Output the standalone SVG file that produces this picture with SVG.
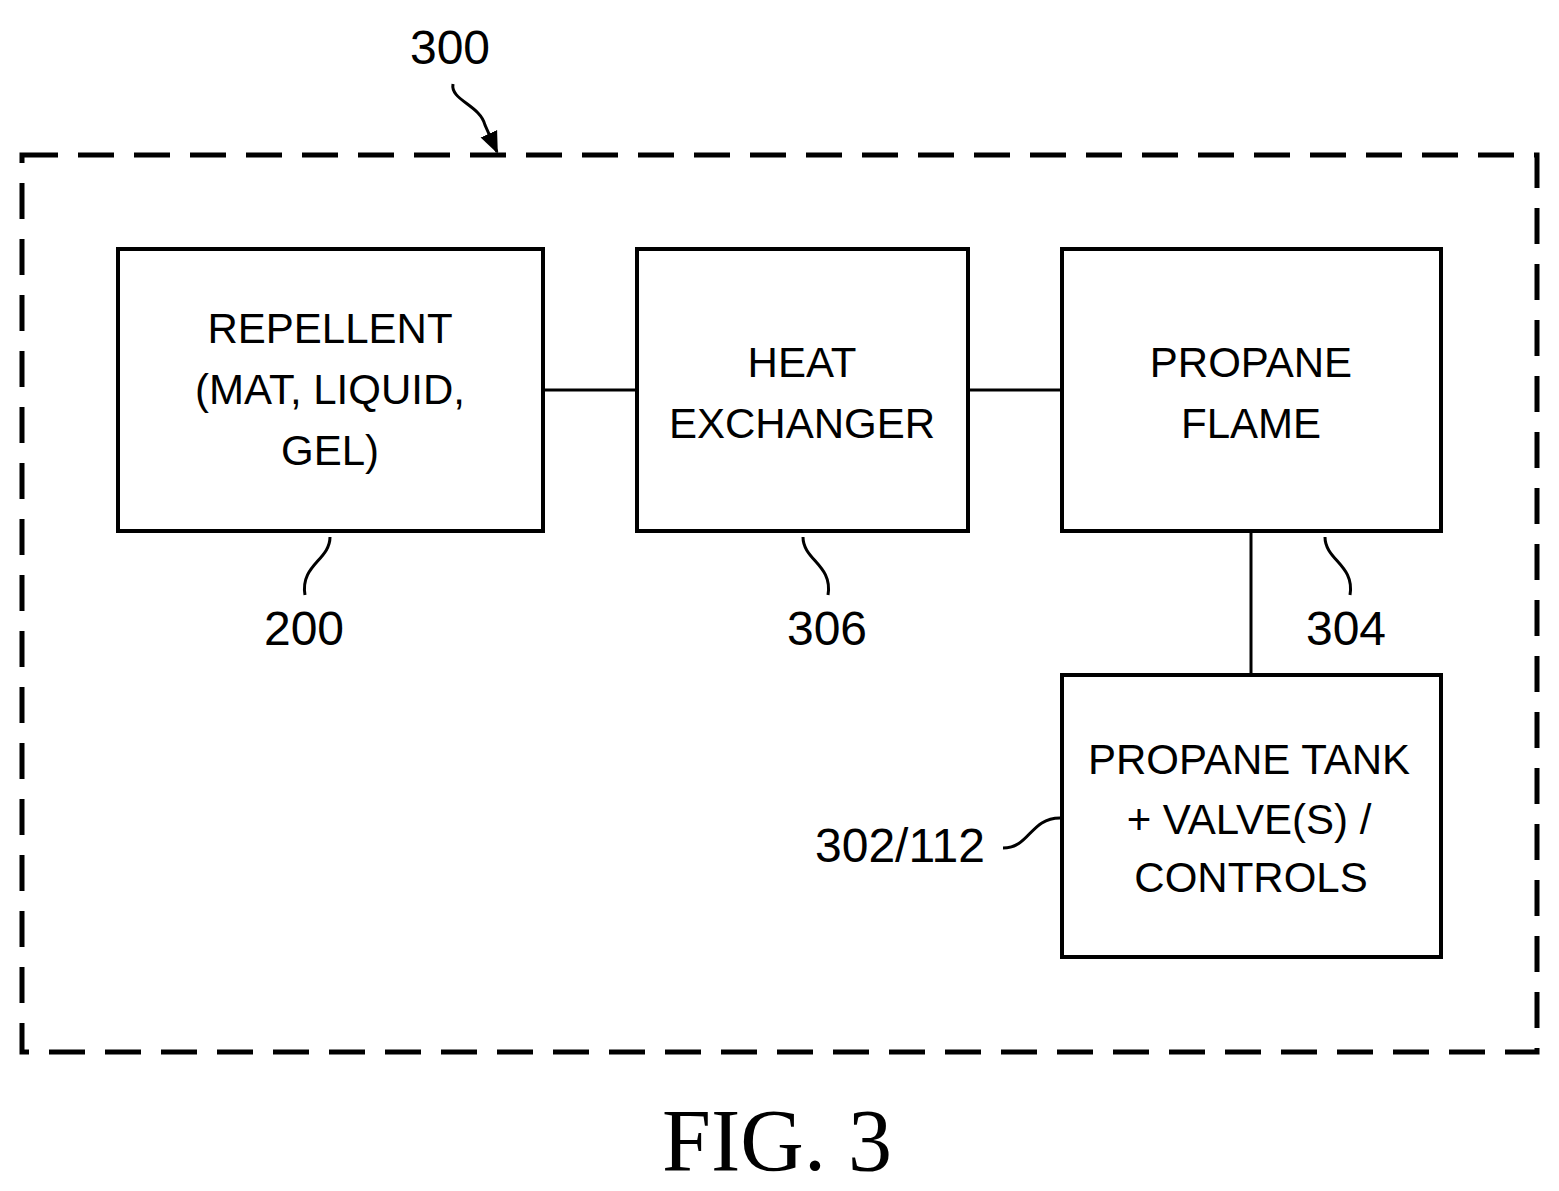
<svg xmlns="http://www.w3.org/2000/svg" width="1559" height="1191" viewBox="0 0 1559 1191">
<style>
.b{fill:#fff;stroke:#000;stroke-width:4}
.t{font-family:"Liberation Sans",Arial,sans-serif;font-size:42px;text-anchor:middle;fill:#000}
.n{font-family:"Liberation Sans",Arial,sans-serif;font-size:48px;text-anchor:middle;fill:#000}
.l{fill:none;stroke:#000;stroke-width:3}
</style>
<defs>
<marker id="ah" markerWidth="22" markerHeight="22" refX="20" refY="11" orient="auto" markerUnits="userSpaceOnUse" viewBox="0 0 22 22"><path d="M0,2L22,11L0,20z"/></marker></defs>
<rect x="22" y="155" width="1515" height="897" fill="none" stroke="#000" stroke-width="5" stroke-dasharray="36,20"/>
<g id="connectors">
<line class="l" x1="543" y1="390" x2="637" y2="390"/>
<line class="l" x1="968" y1="390" x2="1062" y2="390"/>
<line class="l" x1="1251" y1="531" x2="1251" y2="675"/>
<path class="l" d="M453,84 C450,100 480,105 485,125 L497,152" marker-end="url(#ah)"/>
<path class="l" d="M330,537 C330,560 300,565 305,595"/>
<path class="l" d="M803,537 C803,560 833,565 828,595"/>
<path class="l" d="M1325,537 C1325,560 1355,565 1350,595"/>
<path class="l" d="M1003,848 C1030,848 1030,818 1060,818"/>
</g>
<g id="n200"><rect class="b" x="118" y="249" width="425" height="282"/>
<text class="t" x="330" y="343">REPELLENT</text><text class="t" x="330" y="404">(MAT, LIQUID,</text><text class="t" x="330" y="465">GEL)</text></g>
<g id="n306"><rect class="b" x="637" y="249" width="331" height="282"/>
<text class="t" x="802" y="377">HEAT</text><text class="t" x="802" y="438">EXCHANGER</text></g>
<g id="n304"><rect class="b" x="1062" y="249" width="379" height="282"/>
<text class="t" x="1251" y="377">PROPANE</text><text class="t" x="1251" y="438">FLAME</text></g>
<g id="n302"><rect class="b" x="1062" y="675" width="379" height="282"/>
<text class="t" x="1249" y="774">PROPANE TANK</text><text class="t" x="1249" y="834">+ VALVE(S) /</text><text class="t" x="1251" y="892">CONTROLS</text></g>
<g id="labels">
<text class="n" x="450" y="64">300</text>
<text class="n" x="304" y="645">200</text>
<text class="n" x="827" y="645">306</text>
<text class="n" x="1346" y="645">304</text>
<text class="n" x="900" y="862">302/112</text>
<text x="777" y="1170" font-family="Liberation Serif,serif" font-size="88" text-anchor="middle">FIG. 3</text>
</g>
</svg>
